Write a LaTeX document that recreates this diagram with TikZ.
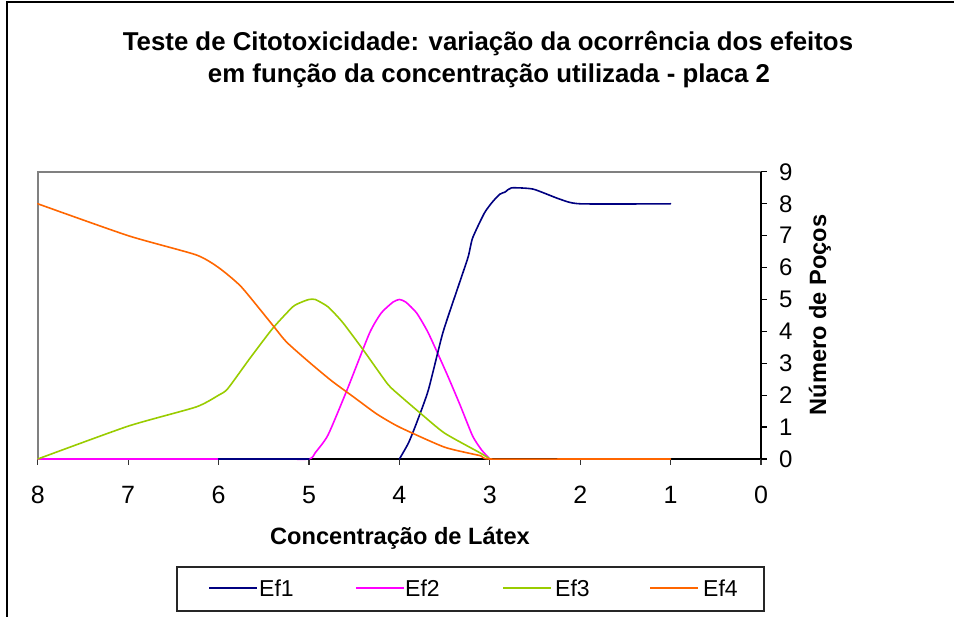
\documentclass[tikz,border=0pt]{standalone}
\usepackage{fontspec}
\setmainfont{Liberation Sans}
\definecolor{cEfa}{HTML}{000080}
\definecolor{cEfb}{HTML}{FF00FF}
\definecolor{cEfc}{HTML}{99CC00}
\definecolor{cEfd}{HTML}{FF6600}
\definecolor{plotgrey}{HTML}{808080}
\tikzset{
  series/.style={line width=1.6pt, line join=round, line cap=round},
  axisline/.style={line width=1.4pt, black},
  tickx/.style={line width=1.2pt, black!80},
  ticklabx/.style={font=\fontsize{25}{25}\selectfont, inner sep=0pt},
  ticklaby/.style={font=\fontsize{24}{24}\selectfont, inner sep=0pt, anchor=west},
  titletext/.style={font=\fontsize{25.8}{28}\selectfont\bfseries, inner sep=0pt, anchor=base},
  axtitle/.style={font=\fontsize{23.6}{24}\selectfont\bfseries, inner sep=0pt, anchor=base},
  legtext/.style={font=\fontsize{23}{23}\selectfont, inner sep=0pt, anchor=west},
}
\begin{document}
\begin{tikzpicture}[x=1pt,y=1pt]
\useasboundingbox (0,0) rectangle (954,-617);
% outer chart frame (cropped: top and left only visible)
\draw[line width=1.5pt] (7,-617) -- (7,-2) -- (954,-2);
% title
\node[titletext] (title1) at (488,-51) {Teste de Citotoxicidade: variação da ocorrência dos efeitos};
\node[titletext] (title2) at (489,-83) {em função da concentração utilizada - placa 2};
% plot area border
\draw[plotgrey, line width=1.4pt] (38,-459) -- (38,-172) -- (761,-172);
% data scope: v from 8 (left) to 0 (right); n from 0 to 9
\begin{scope}[shift={(761pt,-459pt)}, x=-90.4pt, y=31.9pt]
  % axes
  \draw[axisline] (8,0) -- (0,0) -- (0,9);
  \foreach \v in {0,...,8} { \draw[tickx] (\v,0) -- ++(0,-6pt); }
  \foreach \n in {0,...,9} { \draw[axisline, line width=1.2pt] (0,\n) -- ++(6pt,0); }
  \foreach \v in {0,...,8} { \node[ticklabx] (xl\v) at ([yshift=-36pt]\v,0) {\v}; }
  \foreach \n in {0,...,9} { \node[ticklaby] (yl\n) at ([xshift=18pt]0,\n) {\n}; }
  % Ef2 (magenta)
  \draw[series, cEfb] plot[smooth, tension=0.35] coordinates {
    (8,0) (5.4,0) (5,0) (4.93,0.2) (4.79,0.75) (4.58,2.16) (4.33,3.95) (4.2,4.58)
    (4.07,4.92) (4,5) (3.93,4.92) (3.81,4.58) (3.68,3.95) (3.48,2.7) (3.33,1.7)
    (3.19,0.72) (3.09,0.28) (3,0)};
  % Ef1 (navy)
  \draw[series, cEfa] (6,0) -- (5,0);
  \draw[series, cEfa] plot[smooth, tension=0.35] coordinates {
    (4,0) (3.9,0.5) (3.81,1.13) (3.68,2.16) (3.52,3.95) (3.35,5.4) (3.24,6.33)
    (3.19,6.93) (3.06,7.71) (2.97,8.06) (2.89,8.3) (2.83,8.37) (2.76,8.5)
    (2.52,8.46) (2.23,8.15) (2,8) (1,8)};
  % Ef3 (green)
  \draw[series, cEfc] plot[smooth, tension=0.35] coordinates {
    (8,0) (7,1.03) (6.25,1.63) (6,2.0) (5.9,2.2) (5.65,3.17) (5.4,4.1) (5.18,4.77)
    (5.08,4.92) (5,5) (4.93,5) (4.79,4.77) (4.63,4.29) (4.4,3.42) (4.13,2.35)
    (4,2.0) (3.77,1.44) (3.5,0.81) (3.1,0.18) (3,0)};
  % Ef4 (orange)
  \draw[series, cEfd] plot[smooth, tension=0.35] coordinates {
    (8,8) (7,7) (6.25,6.4) (6,6) (5.75,5.4) (5.4,4.19) (5.25,3.67) (5,3.04)
    (4.75,2.45) (4.5,1.93) (4.25,1.41) (4,1.0) (3.5,0.37) (3.1,0.1) (3,0) (2,0) (1,0)};
\end{scope}
% axis titles
\node[axtitle] (xtitle) at (400,-545) {Concentração de Látex};
\node[axtitle, rotate=90] (ytitle) at (826,-315) {Número de Poços};
% legend
\node[draw=black!85, line width=1.2pt, minimum width=587pt, minimum height=44pt, inner sep=0pt] (legend) at (470.5,-589) {};
\foreach \i/\c/\xa/\xt in {1/cEfa/209/259, 2/cEfb/356/405, 3/cEfc/503/555, 4/cEfd/650/703} {
  \coordinate (ls\i) at (\xa,-588);
  \node[legtext] (lt\i) at (\xt,-588) {Ef\i};
  \draw[series, line cap=butt, \c] (ls\i) -- ++(48,0);
}
\end{tikzpicture}
\end{document}
